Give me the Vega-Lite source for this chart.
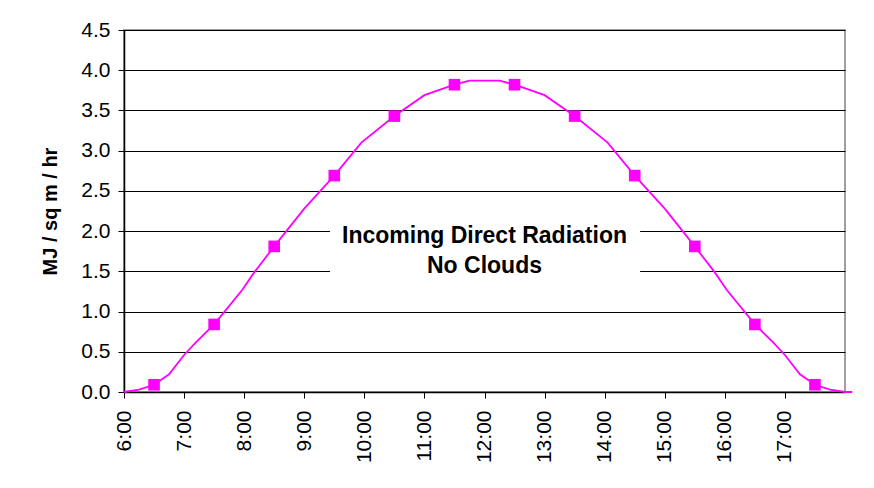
{
  "$schema": "https://vega.github.io/schema/vega-lite/v6.json",
  "width": 721,
  "height": 362,
  "autosize": "none",
  "padding": {"left": 124, "top": 30, "right": 29, "bottom": 96},
  "background": "white",
  "config": {
    "font": "Liberation Sans",
    "view": {"stroke": "#808080", "strokeWidth": 1.5},
    "axis": {
      "labelFont": "Liberation Sans",
      "titleFont": "Liberation Sans",
      "labelColor": "black",
      "titleColor": "black",
      "domainColor": "black",
      "tickColor": "black",
      "gridColor": "black",
      "gridOpacity": 1,
      "gridWidth": 1
    }
  },
  "datasets": {
    "curve": [
      {"t": 6.0, "v": 0.0},
      {"t": 6.25, "v": 0.03},
      {"t": 6.5, "v": 0.09},
      {"t": 6.75, "v": 0.22},
      {"t": 7.0, "v": 0.46},
      {"t": 7.2, "v": 0.62},
      {"t": 7.5, "v": 0.84},
      {"t": 7.97, "v": 1.27},
      {"t": 8.17, "v": 1.49},
      {"t": 8.5, "v": 1.81},
      {"t": 9.0, "v": 2.28},
      {"t": 9.5, "v": 2.69},
      {"t": 9.95, "v": 3.1},
      {"t": 10.5, "v": 3.43},
      {"t": 11.0, "v": 3.69},
      {"t": 11.5, "v": 3.82},
      {"t": 11.75, "v": 3.87},
      {"t": 12.25, "v": 3.87},
      {"t": 12.5, "v": 3.82},
      {"t": 13.0, "v": 3.69},
      {"t": 13.5, "v": 3.43},
      {"t": 14.05, "v": 3.1},
      {"t": 14.5, "v": 2.69},
      {"t": 15.0, "v": 2.28},
      {"t": 15.5, "v": 1.81},
      {"t": 15.83, "v": 1.49},
      {"t": 16.03, "v": 1.27},
      {"t": 16.5, "v": 0.84},
      {"t": 16.8, "v": 0.62},
      {"t": 17.0, "v": 0.46},
      {"t": 17.25, "v": 0.22},
      {"t": 17.5, "v": 0.09},
      {"t": 17.75, "v": 0.03},
      {"t": 18.0, "v": 0.0},
      {"t": 18.12, "v": 0.0}
    ],
    "hourly": [
      {"t": 6.5, "v": 0.09},
      {"t": 7.5, "v": 0.84},
      {"t": 8.5, "v": 1.81},
      {"t": 9.5, "v": 2.69},
      {"t": 10.5, "v": 3.43},
      {"t": 11.5, "v": 3.82},
      {"t": 12.5, "v": 3.82},
      {"t": 13.5, "v": 3.43},
      {"t": 14.5, "v": 2.69},
      {"t": 15.5, "v": 1.81},
      {"t": 16.5, "v": 0.84},
      {"t": 17.5, "v": 0.09}
    ],
    "labelBox": [
      {"x1": 9.43, "x2": 14.59, "y1": 1.28, "y2": 2.2}
    ],
    "labelText": [
      {"t": 12.0, "v": 1.94, "text": "Incoming Direct Radiation"},
      {"t": 12.0, "v": 1.57, "text": "No Clouds"}
    ]
  },
  "layer": [
    {
      "data": {"name": "labelBox"},
      "mark": {"type": "rect", "fill": "white", "stroke": null},
      "encoding": {
        "x": {
          "field": "x1",
          "type": "quantitative",
          "scale": {"domain": [6, 18], "nice": false, "zero": false},
          "axis": {
            "title": null,
            "values": [6, 7, 8, 9, 10, 11, 12, 13, 14, 15, 16, 17],
            "labelExpr": "datum.value + ':00'",
            "labelAngle": 270,
            "labelFontSize": 21,
            "labelPadding": 12,
            "tickSize": 6,
            "domainWidth": 1.5,
            "grid": false,
            "labelFlush": false,
            "labelOverlap": false
          }
        },
        "x2": {"field": "x2"},
        "y": {
          "field": "y1",
          "type": "quantitative",
          "scale": {"domain": [0, 4.5], "nice": false},
          "axis": {
            "title": "MJ / sq m / hr",
            "titleFontSize": 20,
            "titleFontWeight": "bold",
            "titlePadding": 20,
            "values": [0, 0.5, 1, 1.5, 2, 2.5, 3, 3.5, 4, 4.5],
            "format": ".1f",
            "labelFontSize": 21,
            "labelPadding": 8,
            "tickSize": 6,
            "domainWidth": 1.5,
            "grid": true,
            "labelFlush": false,
            "labelOverlap": false
          }
        },
        "y2": {"field": "y2"}
      }
    },
    {
      "data": {"name": "curve"},
      "mark": {"type": "line", "color": "#FF00FF", "strokeWidth": 1.8, "clip": false},
      "encoding": {
        "x": {"field": "t", "type": "quantitative"},
        "y": {"field": "v", "type": "quantitative"}
      }
    },
    {
      "data": {"name": "hourly"},
      "mark": {"type": "point", "shape": "square", "filled": true, "color": "#FF00FF", "opacity": 1, "size": 135},
      "encoding": {
        "x": {"field": "t", "type": "quantitative"},
        "y": {"field": "v", "type": "quantitative"}
      }
    },
    {
      "data": {"name": "labelText"},
      "mark": {"type": "text", "font": "Liberation Sans", "fontSize": 23, "fontWeight": "bold", "color": "black", "align": "center", "baseline": "middle"},
      "encoding": {
        "x": {"field": "t", "type": "quantitative"},
        "y": {"field": "v", "type": "quantitative"},
        "text": {"field": "text"}
      }
    }
  ]
}
